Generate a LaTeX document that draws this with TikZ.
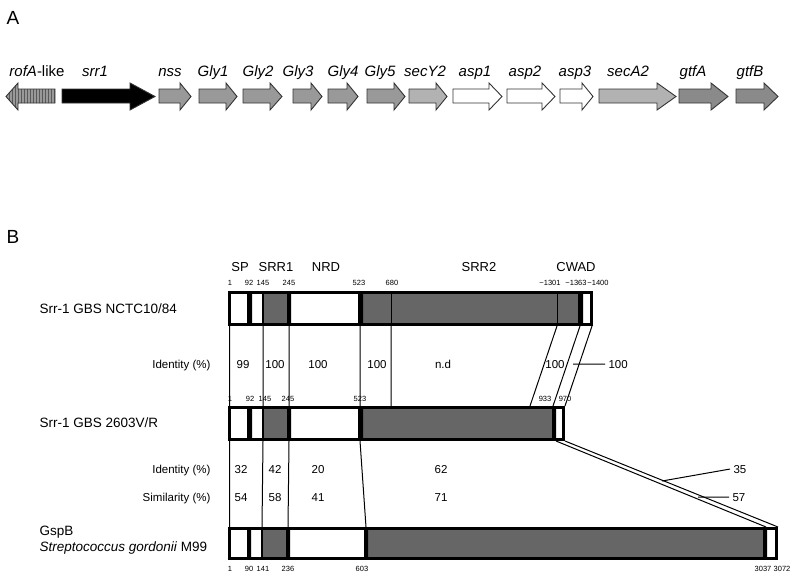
\documentclass[tikz,border=0pt]{standalone}
\usepackage{fontspec}
\setmainfont{Liberation Sans}
\usetikzlibrary{patterns}

\definecolor{glyfill}{gray}{0.6}
\definecolor{secfill}{gray}{0.7}
\definecolor{gtffill}{gray}{0.54}
\definecolor{domfill}{gray}{0.4}

\begin{document}
\begin{tikzpicture}[x=1pt, y=-1pt,
    gene/.style = {draw=black!80, line width=0.9pt},
    genename/.style = {font=\fontsize{15}{18}\selectfont\itshape, anchor=base},
    panel/.style = {font=\fontsize{19}{22}\selectfont},
    strain/.style = {font=\fontsize{13.5}{16}\selectfont, anchor=west, align=left},
    region/.style = {font=\fontsize{13}{15}\selectfont},
    resnum/.style = {font=\fontsize{7.5}{9}\selectfont, inner sep=1pt},
    score/.style = {font=\fontsize{11.5}{13}\selectfont, anchor=base},
    rowname/.style = {font=\fontsize{11.5}{13}\selectfont, anchor=base east},
    barline/.style = {line width=3pt},
    band/.style = {fill=black},
    dom/.style = {fill=domfill},
    link/.style = {line width=1pt}]

    \useasboundingbox (0,0) rectangle (800,578);

    % panel A: gene cluster
    \node[panel] (pa) at (13,18) {A};

    \fill[glyfill] (55,89) -- (18,89) -- (18,83) -- (6,96.5) -- (18,110) -- (18,103) -- (55,103) -- cycle;
    \draw[gene, pattern=vertical lines, pattern color=black!65] (55,89) -- (18,89) -- (18,83) -- (6,96.5) -- (18,110) -- (18,103) -- (55,103) -- cycle;
    \node[genename] (rofa) at (37,76) {rofA\textup{-like}};

    \foreach \xa/\xb/\h/\c/\lx/\nm/\t in {62/155/25/black/95/srr/srr1,
        159/191/11/glyfill/170/nss/nss, 199/237/11/glyfill/213/glya/Gly1,
        243/282/12/glyfill/258/glyb/Gly2, 293/322/11/glyfill/298/glyc/Gly3,
        328/358/11/glyfill/343/glyd/Gly4, 367/405/11/glyfill/380/glye/Gly5,
        409/447/11/secfill/425/secy/secY2, 453/502/13/white/475/aspa/asp1,
        507/555/13/white/525/aspb/asp2, 560/593/11/white/575/aspc/asp3,
        599/676/19/secfill/628/seca/secA2, 679/728/17/gtffill/693/gtfa/gtfA,
        736/778/14/gtffill/750/gtfb/gtfB}
    {
        \draw[gene, fill=\c] (\xa,89) -- (\xb-\h,89) -- (\xb-\h,83) -- (\xb,96.5) -- (\xb-\h,110) -- (\xb-\h,103) -- (\xa,103) -- cycle;
        \node[genename] (\nm) at (\lx,76) {\t};
    }

    % panel B: protein domains
    \node[panel] (pb) at (13,237) {B};

    \node[region] (sp) at (240,267) {SP};
    \node[region] (srra) at (276,267) {SRR1};
    \node[region] (nrd) at (326,267) {NRD};
    \node[region] (srrb) at (479,267) {SRR2};
    \node[region] (cwad) at (576,267) {CWAD};

    \node[strain] (nctc) at (36,309) {Srr-1 GBS NCTC10/84};
    \node[strain] (gbs) at (36,423) {Srr-1 GBS 2603V/R};
    \node[strain] (gspb) at (36,540) {GspB\\\textit{Streptococcus gordonii} M99};

    % Srr-1 NCTC10/84
    \fill[dom] (263,292) rectangle (287,325) (363,292) rectangle (578,325);
    \fill[band] (247,292) rectangle (252,325) (287,292) rectangle (291,325)
        (358,292) rectangle (363,325) (578,292) rectangle (583,325);
    \draw[line width=1.5pt] (263,292) -- (263,325);
    \draw[link] (391,292) -- (391,325) (557,292) -- (557,325);
    \draw[barline] (229.5,292.5) rectangle (591.5,324.5);

    % Srr-1 2603V/R
    \fill[dom] (263,407) rectangle (287,440) (363,407) rectangle (552,440);
    \fill[band] (247,407) rectangle (252,440) (287,407) rectangle (291,440)
        (358,407) rectangle (363,440) (552,407) rectangle (556,440);
    \draw[line width=1.5pt] (263,407) -- (263,440);
    \draw[barline] (229.5,407.5) rectangle (563.5,439.5);

    % GspB
    \fill[dom] (262,528) rectangle (286,559) (368,528) rectangle (763,559);
    \fill[band] (247,528) rectangle (251,559) (286,528) rectangle (290,559)
        (364,528) rectangle (368,559) (763,528) rectangle (767,559);
    \draw[line width=1.5pt] (262,528) -- (262,559);
    \draw[barline] (229.5,528.5) rectangle (776.5,558.5);

    % residue numbers
    \foreach \x/\t in {230/1, 249/92, 263/145, 289/245, 359/523, 392/680,
        550/\textasciitilde1301, 576/\textasciitilde1363, 598/\textasciitilde1400}
        \node[resnum] (ra\x) at (\x,283) {\t};
    \foreach \x/\t in {230/1, 250/92, 265/145, 288/245, 360/523, 545/933, 565/970}
        \node[resnum] (rb\x) at (\x,399) {\t};
    \foreach \x/\t in {230/1, 249/90, 263/141, 288/236, 362/603, 763/3037, 782/3072}
        \node[resnum] (rc\x) at (\x,569) {\t};

    % end points of the links
    \coordinate (a1) at (229.5,326);   \coordinate (b1) at (229.5,406);
    \coordinate (a145) at (263,326);   \coordinate (b145) at (263,406);
    \coordinate (a245) at (289,326);   \coordinate (b245) at (289,406);
    \coordinate (a523) at (360,326);   \coordinate (b523) at (360,406);
    \coordinate (a680) at (391,326);   \coordinate (b680) at (391,406);
    \coordinate (a1301) at (557,326);  \coordinate (b1301) at (530,406);
    \coordinate (a1363) at (580,326);  \coordinate (b933) at (553,406);
    \coordinate (a1400) at (592,326);  \coordinate (b970) at (565,406);

    \coordinate (c1) at (229.5,441);   \coordinate (d1) at (229.5,527);
    \coordinate (c145) at (263,441);   \coordinate (d141) at (262,527);
    \coordinate (c245) at (289,441);   \coordinate (d236) at (288,527);
    \coordinate (c523) at (360,441);   \coordinate (d603) at (366,527);
    \coordinate (c933) at (556,441);   \coordinate (d3037) at (766,527);
    \coordinate (c970) at (565,441);   \coordinate (d3072) at (778,527);

    \draw[link] (a1) -- (b1) (a145) -- (b145) (a245) -- (b245) (a523) -- (b523)
        (a680) -- (b680) (a1301) -- (b1301) (a1363) -- (b933) (a1400) -- (b970);
    \draw[link] (c1) -- (d1) (c145) -- (d141) (c245) -- (d236) (c523) -- (d603)
        (c933) -- (d3037) (c970) -- (d3072);

    % identity / similarity
    \node[rowname] (ida) at (214,368) {Identity (\%)};
    \node[rowname] (idb) at (214,473) {Identity (\%)};
    \node[rowname] (sim) at (214,501) {Similarity (\%)};

    \foreach \x/\t in {243/99, 275/100, 318/100, 377/100, 443/n.d, 555/100}
        \node[score] (sa\x) at (\x,368) {\t};
    \foreach \x/\t in {241/32, 275/42, 318/20, 441/62}
        \node[score] (sb\x) at (\x,473) {\t};
    \foreach \x/\t in {241/54, 275/58, 318/41, 441/71}
        \node[score] (sc\x) at (\x,501) {\t};

    \node[score, anchor=base west] (cw) at (605,368) {100};
    \node[score, anchor=base west] (cwb) at (730,473) {35};
    \node[score, anchor=base west] (cwc) at (729,501) {57};

    \coordinate (ta) at (573,364);
    \coordinate (tb) at (662,481);
    \coordinate (tc) at (698,497);
    \draw[link] (ta) -- (cw.west);
    \draw[link] (tb) -- (cwb.west);
    \draw[link] (tc) -- (cwc.west);

\end{tikzpicture}
\end{document}
